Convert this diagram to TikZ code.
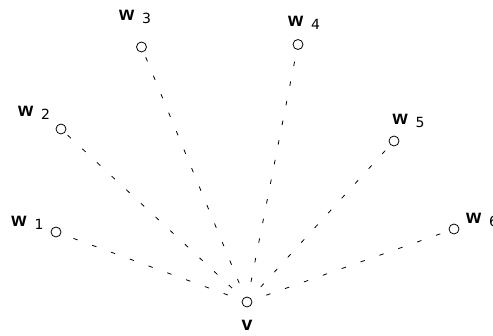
\documentclass[tikz,border=0pt]{standalone}
\usepackage{fontspec}
\newfontfamily\wfont{Liberation Sans}
\newfontfamily\dfont{DejaVu Sans}
\begin{document}
\begin{tikzpicture}[x=1pt,y=-1pt,
  vert/.style={circle,draw,line width=0.8pt,minimum size=10pt,inner sep=0pt},
  lab/.style={anchor=base west,inner sep=0pt,outer sep=0pt},
  edge/.style={line width=0.8pt,dash pattern=on 4.5pt off 15.5pt,dash phase=5pt}]
\newcommand{\wlab}[1]{{\fontsize{19.5}{19}\selectfont\wfont\bfseries w}\hspace{8pt}\raisebox{-2.5pt}{\fontsize{14}{14}\selectfont\dfont #1}}
\useasboundingbox (0,0) rectangle (493,336);
\node[vert] (v) at (247,302) {};
\node[vert] (w1) at (56,232) {};
\node[vert] (w2) at (61,129) {};
\node[vert] (w3) at (141.5,47) {};
\node[vert] (w4) at (298,44.5) {};
\node[vert] (w5) at (394,141) {};
\node[vert] (w6) at (454,229) {};
\node[lab] (lv) at (241.5,331) {\fontsize{19.5}{19}\selectfont\wfont\bfseries v};
\node[lab] (l1) at (11.5,227) {\wlab{1}};
\node[lab] (l2) at (18,117) {\wlab{2}};
\node[lab] (l3) at (119,21) {\wlab{3}};
\node[lab] (l4) at (288,27) {\wlab{4}};
\node[lab] (l5) at (392.5,125) {\wlab{5}};
\node[lab] (l6) at (466,224) {\wlab{6}};
\foreach \i in {1,...,6} \draw[edge] (v) -- (w\i);
\end{tikzpicture}
\end{document}
